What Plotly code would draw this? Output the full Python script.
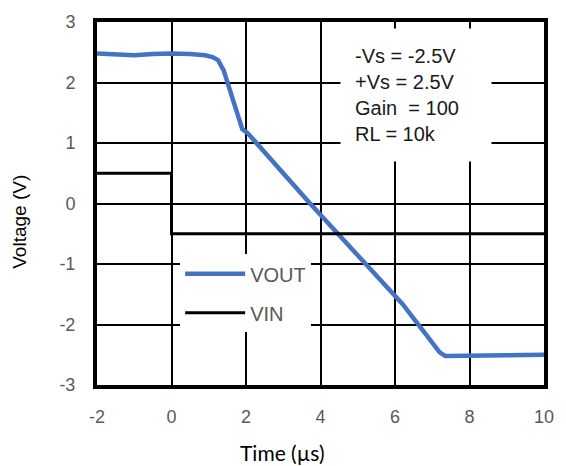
import plotly.graph_objects as go

# Data
vout_t = [-2, -1.5, -1.0, -0.5, 0, 0.5, 0.9, 1.1, 1.25, 1.4, 1.6, 1.8, 1.9, 2.05, 3.72, 6.2, 7.2, 7.35, 7.6, 8, 9, 10]
vout_v = [2.48, 2.46, 2.45, 2.47, 2.48, 2.47, 2.45, 2.42, 2.37, 2.2, 1.8, 1.38, 1.23, 1.16, 0.0, -1.66, -2.46, -2.52, -2.52, -2.51, -2.51, -2.50]
vin_t = [-2, 0, 0, 10]
vin_v = [0.5, 0.5, -0.5, -0.5]

x_ticks = [-2, 0, 2, 4, 6, 8, 10]
x_labels = ["-2", "0", "2", "4", "6", "8", "10"]
y_ticks = [-3, -2, -1, 0, 1, 2, 3]
y_labels = ["-3", "-2", "-1", "0", "1", "2", "3"]

ARIAL = "Liberation Sans, Arial, sans-serif"
GRAY = "#595959"

fig = go.Figure()
fig.add_trace(go.Scatter(x=vout_t, y=vout_v, mode="lines", name="VOUT",
                         line=dict(color="#4472C4", width=4.5), legendgroup="a"))
fig.add_trace(go.Scatter(x=vin_t, y=vin_v, mode="lines", name="VIN",
                         line=dict(color="black", width=3), legendgroup="b"))

fig.update_layout(
    width=566, height=466,
    margin=dict(l=97, r=12, t=18, b=81),
    paper_bgcolor="white", plot_bgcolor="white",
    showlegend=True,
    legend=dict(
        x=0.186, y=0.36, xanchor="left", yanchor="top",
        bgcolor="white", borderwidth=0,
        font=dict(family=ARIAL, size=20, color=GRAY),
        itemwidth=60, tracegroupgap=10, traceorder="grouped",
    ),
    xaxis=dict(
        range=[-2, 10], tickvals=x_ticks, ticktext=x_labels,
        showgrid=True, gridcolor="black", gridwidth=1.5,
        zeroline=False, showline=True, linecolor="black", linewidth=4, mirror=True,
        tickfont=dict(family=ARIAL, size=18, color=GRAY), ticks="", ticklabelstandoff=12,
    ),
    yaxis=dict(
        range=[-3, 3], tickvals=y_ticks, ticktext=y_labels,
        showgrid=True, gridcolor="black", gridwidth=1.5,
        zeroline=False, showline=True, linecolor="black", linewidth=4, mirror=True,
        tickfont=dict(family=ARIAL, size=18, color=GRAY), ticks="", ticklabelstandoff=14,
    ),
    annotations=[
        dict(text="-Vs = -2.5V<br>+Vs = 2.5V<br>Gain  = 100<br>RL = 10k",
             xref="paper", yref="paper", x=0.543, y=0.984, xanchor="left", yanchor="top",
             showarrow=False, align="left", valign="middle", bgcolor="white", borderpad=14,
             width=122, height=104,
             font=dict(family=ARIAL, size=20, color="#1a1a1a")),
        dict(text="Voltage (V)", xref="paper", yref="paper", x=-0.172, y=0.45,
             xanchor="center", yanchor="middle", textangle=-90, showarrow=False,
             font=dict(family=ARIAL, size=19, color="black")),
        dict(text="Time (µs)", xref="paper", yref="paper", x=0.414, y=-0.185,
             xanchor="center", yanchor="middle", showarrow=False,
             font=dict(family="Lato, Carlito, sans-serif", size=21, color="black")),
    ],
)

post = (
    "document.documentElement.style.overflow='hidden';"
    "document.body.style.margin='0';document.body.style.padding='0';"
    "document.body.style.overflow='hidden';"
    "var gd=document.getElementById('{plot_id}');"
    "Plotly.relayout(gd,{width:566,height:466});"
)

fig.write_html("out.html", config={"displayModeBar": False, "responsive": False},
               post_script=post)
